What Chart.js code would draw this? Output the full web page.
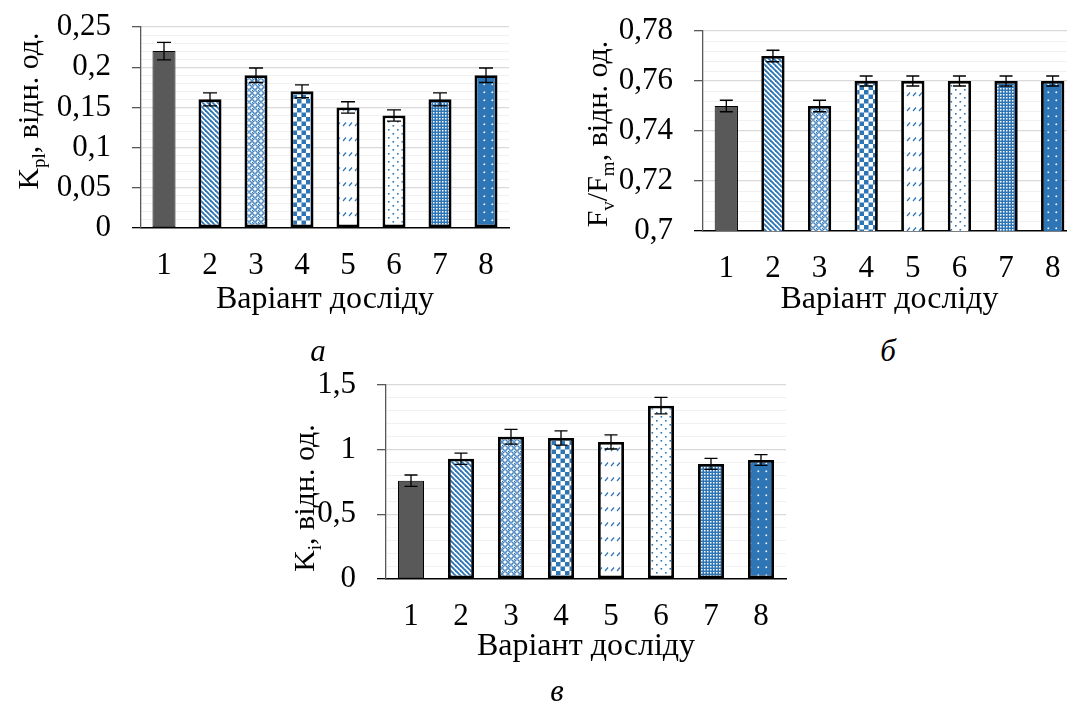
<!DOCTYPE html>
<html><head><meta charset="utf-8">
<script src="https://cdn.jsdelivr.net/npm/chart.js@4.4.0/dist/chart.umd.min.js"></script>
<style>
html,body{margin:0;padding:0;background:#fff;}
body{width:1067px;height:704px;overflow:hidden;position:relative;}
.box{position:absolute;}
.cap{position:absolute;font-family:"Liberation Serif","Times New Roman",serif;font-style:italic;font-size:31px;color:#000;line-height:1;transform:translate(-50%,-50%);}
</style></head><body>
<div class="box" style="left:0;top:0;"><canvas id="cA" width="520" height="330"></canvas></div>
<div class="box" style="left:540px;top:0;"><canvas id="cB" width="540" height="330"></canvas></div>
<div class="box" style="left:250px;top:355px;"><canvas id="cC" width="560" height="349"></canvas></div>
<div class="cap" style="left:318px;top:350px;">а</div>
<div class="cap" style="left:888px;top:350px;">б</div>
<div class="cap" style="left:557px;top:690px;">в</div>
<script>
// ---------- data ----------
const categories = ['1','2','3','4','5','6','7','8'];

const kplValues = [0.22, 0.16, 0.19, 0.17, 0.15, 0.14, 0.16, 0.19];
const kplErrors = [0.011, 0.008, 0.009, 0.008, 0.007, 0.007, 0.008, 0.009];
const kplTickValues = [0, 0.05, 0.1, 0.15, 0.2, 0.25];
const kplTickLabels = ['0', '0,05', '0,1', '0,15', '0,2', '0,25'];

const fvfmValues = [0.75, 0.77, 0.75, 0.76, 0.76, 0.76, 0.76, 0.76];
const fvfmErrors = [0.0023, 0.0023, 0.0023, 0.002, 0.002, 0.002, 0.002, 0.002];
const fvfmTickValues = [0.7, 0.72, 0.74, 0.76, 0.78];
const fvfmTickLabels = ['0,7', '0,72', '0,74', '0,76', '0,78'];

const kiValues = [0.76, 0.93, 1.10, 1.09, 1.06, 1.34, 0.89, 0.92];
const kiErrors = [0.044, 0.044, 0.057, 0.055, 0.055, 0.064, 0.042, 0.042];
const kiTickValues = [0, 0.5, 1, 1.5];
const kiTickLabels = ['0', '0,5', '1', '1,5'];

const xTitle = 'Варіант досліду';
const kplTitle = [{t:'K'},{t:'pl',sub:true},{t:', відн. од.'}];
const fvfmTitle = [{t:'F'},{t:'v',sub:true},{t:'/F'},{t:'m',sub:true},{t:', відн. од.'}];
const kiTitle = [{t:'K'},{t:'i',sub:true},{t:', відн. од.'}];

// ---------- patterns ----------
const BLUE = '#2E75B6';
function pat(w, h, draw) {
  const c = document.createElement('canvas'); c.width = w; c.height = h;
  const g = c.getContext('2d'); draw(g, w, h);
  return c.getContext('2d').createPattern(c, 'repeat');
}
const fills = [
  '#595959',
  pat(5,5,(g,w,h)=>{g.fillStyle='#fff';g.fillRect(0,0,w,h);g.strokeStyle=BLUE;g.lineWidth=1.9;
    for(let k=-1;k<=1;k++){g.beginPath();g.moveTo(-2,-2+5*k);g.lineTo(7,7+5*k);g.stroke();}}),
  pat(6,6,(g,w,h)=>{g.fillStyle='#fff';g.fillRect(0,0,w,h);g.strokeStyle=BLUE;g.lineWidth=1.1;
    g.beginPath();g.arc(3,3,2.3,0,Math.PI*2);g.stroke();g.fillStyle=BLUE;g.fillRect(0,0,1,1);}),
  pat(9,9,(g,w,h)=>{g.fillStyle='#fff';g.fillRect(0,0,w,h);g.fillStyle=BLUE;g.fillRect(0,0,4.5,4.5);g.fillRect(4.5,4.5,4.5,4.5);}),
  pat(6,15,(g,w,h)=>{g.fillStyle='#fff';g.fillRect(0,0,w,h);g.strokeStyle=BLUE;g.lineWidth=1.2;
    g.beginPath();g.moveTo(1,6);g.lineTo(4,2.5);g.stroke();}),
  pat(9,8,(g,w,h)=>{g.fillStyle='#fff';g.fillRect(0,0,w,h);g.fillStyle=BLUE;g.fillRect(1,1,1.6,1.6);g.fillRect(5.5,5,1.6,1.6);}),
  pat(3,3,(g,w,h)=>{g.fillStyle=BLUE;g.fillRect(0,0,w,h);g.fillStyle='#fff';g.fillRect(1,1,1.5,1.5);}),
  pat(8,8,(g,w,h)=>{g.fillStyle=BLUE;g.fillRect(0,0,w,h);g.fillStyle='#fff';g.fillRect(3.5,3.5,1.6,1.6);})
];
const borderWidths = [1, 2.8, 2.8, 2.8, 2.8, 2.8, 2.8, 2.8];

// ---------- plugins ----------
const errorBars = {
  id: 'errorBars',
  afterDatasetsDraw(chart, args, opts) {
    const meta = chart.getDatasetMeta(0), ys = chart.scales.y, ctx = chart.ctx;
    const data = chart.data.datasets[0].data;
    ctx.save(); ctx.strokeStyle = '#000'; ctx.lineWidth = 1.3;
    meta.data.forEach((bar, i) => {
      const v = data[i], e = opts.errors[i];
      const yt = ys.getPixelForValue(v + e), yb = ys.getPixelForValue(v - e), x = bar.x, hw = opts.cap / 2;
      ctx.beginPath();
      ctx.moveTo(x, yt); ctx.lineTo(x, yb);
      ctx.moveTo(x - hw, yt); ctx.lineTo(x + hw, yt);
      ctx.moveTo(x - hw, yb); ctx.lineTo(x + hw, yb);
      ctx.stroke();
    });
    ctx.restore();
  }
};
const yTitle = {
  id: 'yTitle',
  afterDraw(chart, args, opts) {
    const ctx = chart.ctx, size = opts.size;
    const font = size + 'px "Liberation Serif", serif';
    const subFont = Math.round(size * 0.62) + 'px "Liberation Serif", serif';
    let total = 0;
    const parts = opts.parts.map(p => { ctx.font = p.sub ? subFont : font; const w = ctx.measureText(p.t).width; total += w; return {t: p.t, sub: p.sub, w}; });
    ctx.save(); ctx.translate(opts.x, opts.y); ctx.rotate(-Math.PI / 2);
    ctx.fillStyle = '#000'; ctx.textAlign = 'left'; ctx.textBaseline = 'alphabetic';
    let x = -total / 2; const base = size * 0.33;
    parts.forEach(p => { ctx.font = p.sub ? subFont : font; ctx.fillText(p.t, x, base + (p.sub ? size * 0.22 : 0)); x += p.w; });
    ctx.restore();
  }
};

Chart.defaults.font.family = '"Liberation Serif", "Times New Roman", serif';
Chart.defaults.font.size = 31;
Chart.defaults.color = '#000';

function near(a, b) { return Math.abs(a - b) < 1e-7; }

function makeChart(id, c) {
  const canvas = document.getElementById(id);
  const W = canvas.width, H = canvas.height;
  const isMajor = v => c.tickValues.some(t => near(t, v));
  new Chart(canvas, {
    type: 'bar',
    data: { labels: categories, datasets: [{
      data: c.values, backgroundColor: fills, borderColor: '#000', borderWidth: borderWidths,
      borderSkipped: false, categoryPercentage: 1, barPercentage: c.barPct
    }]},
    plugins: [errorBars, yTitle],
    options: {
      responsive: false, animation: false, events: [],
      layout: { padding: { top: c.area.top, right: W - c.area.right, left: 0, bottom: 0 } },
      plugins: {
        legend: { display: false }, tooltip: { enabled: false },
        errorBars: { errors: c.errors, cap: c.cap },
        yTitle: { parts: c.title, x: c.titleX, y: c.titleY, size: 30 }
      },
      scales: {
        x: {
          grid: { display: false, drawTicks: false },
          border: { display: true, color: '#000', width: 1.5 },
          ticks: { padding: c.labelPad, font: { size: 31 } },
          title: { display: true, text: xTitle, font: { size: 32 }, padding: { top: 0, bottom: c.titlePad } },
          afterFit: s => { s.height = H - c.area.bottom; s.paddingLeft = 0; s.paddingRight = 0; }
        },
        y: {
          min: c.min, max: c.max,
          grid: {
            tickLength: 9,
            color: ctx => near(ctx.tick.value, c.min) ? 'rgba(0,0,0,0)' : (isMajor(ctx.tick.value) ? '#d9d9d9' : '#f1f1f1'),
            lineWidth: ctx => isMajor(ctx.tick.value) ? 1.3 : 1,
            tickColor: ctx => near(ctx.tick.value, c.min) ? '#000' : (isMajor(ctx.tick.value) ? '#595959' : 'rgba(0,0,0,0)'),
            tickWidth: 1.3
          },
          border: { display: true, color: '#595959', width: 1.3 },
          ticks: {
            stepSize: c.step, autoSkip: false, padding: 21, font: { size: 31 },
            callback: v => { const i = c.tickValues.findIndex(t => near(t, v)); return i >= 0 ? c.tickLabels[i] : ''; }
          },
          afterFit: s => { s.width = c.area.left; s.paddingTop = 0; s.paddingBottom = 0; }
        }
      }
    }
  });
}

makeChart('cA', { values: kplValues, errors: kplErrors, tickValues: kplTickValues, tickLabels: kplTickLabels,
  min: 0, max: 0.25, step: 0.01, area: {left: 141, right: 509, top: 27, bottom: 228},
  labelPad: 19, titlePad: 11, cap: 14, barPct: 0.5, title: kplTitle, titleX: 28, titleY: 111 });
makeChart('cB', { values: fvfmValues, errors: fvfmErrors, tickValues: fvfmTickValues, tickLabels: fvfmTickLabels,
  min: 0.7, max: 0.78, step: 0.004, area: {left: 163, right: 536, top: 31, bottom: 231},
  labelPad: 19, titlePad: 11, cap: 13, barPct: 0.5, title: fvfmTitle, titleX: 57, titleY: 134 });
makeChart('cC', { values: kiValues, errors: kiErrors, tickValues: kiTickValues, tickLabels: kiTickLabels,
  min: 0, max: 1.5, step: 0.1, area: {left: 136, right: 536, top: 30, bottom: 224},
  labelPad: 19, titlePad: 38, cap: 13, barPct: 0.52, title: kiTitle, titleX: 54, titleY: 143 });
</script>
</body></html>
